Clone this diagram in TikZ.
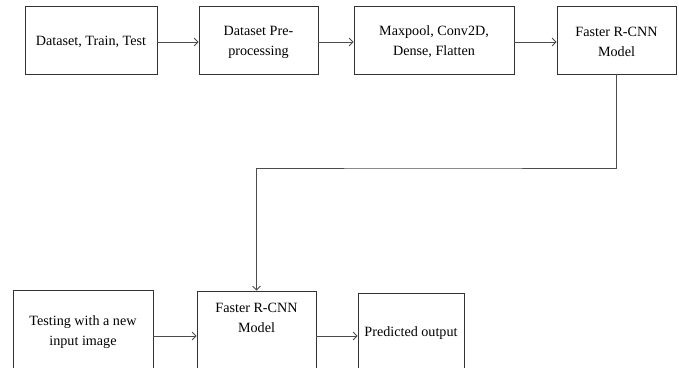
\documentclass[tikz,border=0pt]{standalone}
\usepackage{fontspec}
\setmainfont{Liberation Serif}
\usetikzlibrary{arrows.meta}
\begin{document}
\begin{tikzpicture}[x=1bp,y=-1bp,
  box/.style={draw=black!80, line width=0.8bp, rectangle, inner sep=0pt, align=center,
    font=\fontsize{14.2}{20}\selectfont},
  txt/.style={inner sep=0pt, align=center, font=\fontsize{14.2}{20}\selectfont},
  arr/.style={draw=black!70, line width=0.8bp, -{Straight Barb[length=4bp,width=8bp]}}]
\useasboundingbox (0,0) rectangle (679,367);
\clip (0,0) rectangle (679,367);
% top row
\node[box, minimum width=132bp, minimum height=68bp] (b1) at (91,40) {};
\node[txt] (t1) at (91,42) {Dataset, Train, Test};
\node[box, minimum width=119bp, minimum height=68bp] (b2) at (258.5,40) {};
\node[txt] (t2) at (258.5,42) {Dataset Pre-\\processing};
\node[box, minimum width=160bp, minimum height=68bp] (b3) at (434,40) {};
\node[txt] (t3) at (434,42) {Maxpool, Conv2D,\\Dense, Flatten};
\node[box, minimum width=119bp, minimum height=68bp] (b4) at (616.5,40) {};
\node[txt] (t4) at (616.5,42) {Faster R-CNN\\Model};
% bottom row
\node[box, minimum width=140bp, minimum height=84bp] (a) at (83,332.5) {Testing with a new\\input image};
\node[box, minimum width=119bp, minimum height=100bp] (b5) at (256.5,341) {};
\node[txt] (b5t) at (256.5,318) {Faster R-CNN\\Model};
\node[box, minimum width=106bp, minimum height=80bp] (c) at (411,333) {Predicted output};
% connectors
\coordinate (yt) at (0,42);
\draw[arr] (b1.east |- yt) -- (b2.west |- yt);
\draw[arr] (b2.east |- yt) -- (b3.west |- yt);
\draw[arr] (b3.east |- yt) -- (b4.west |- yt);
\coordinate (bend) at (430,168);
\draw[arr] (b4.south) |- (bend) -| (b5.north);
\coordinate (ya) at (0,336);
\draw[arr] (a.east |- ya) -- (b5.west |- ya);
\draw[arr] (b5.east |- ya) -- (c.west |- ya);
\end{tikzpicture}
\end{document}
